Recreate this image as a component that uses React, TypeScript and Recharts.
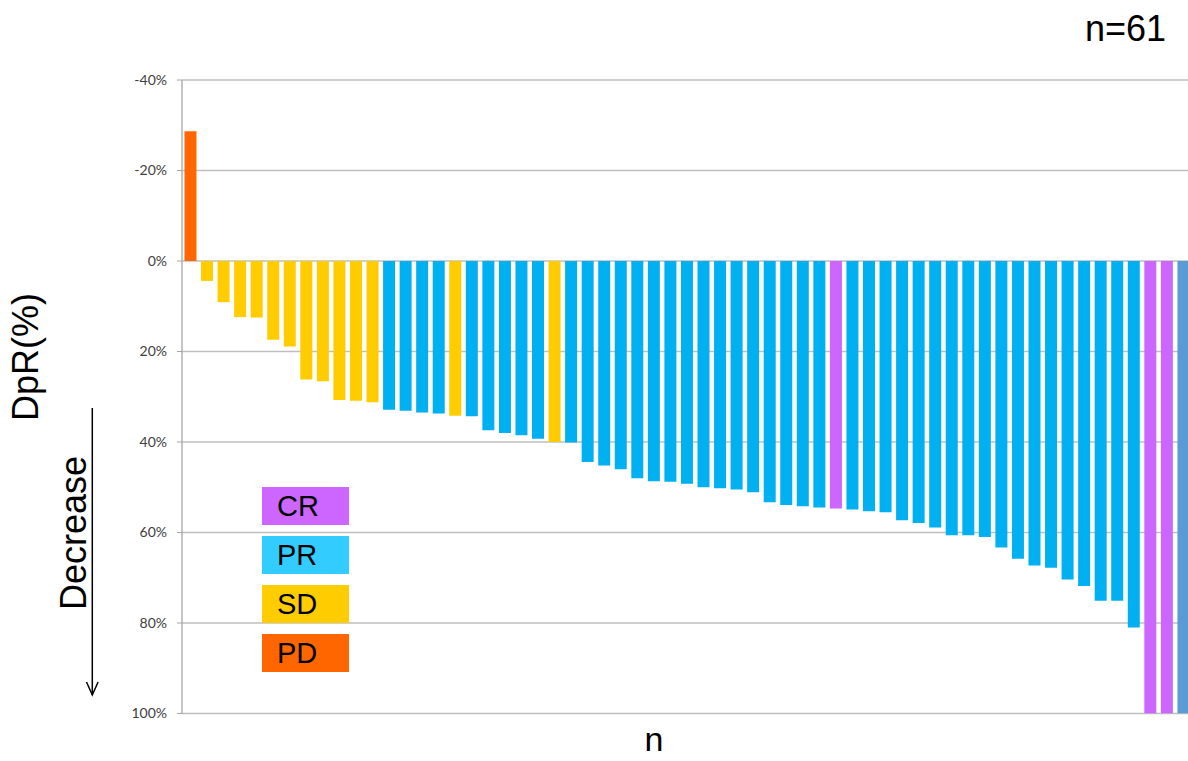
import { BarChart, Bar, XAxis, YAxis, CartesianGrid, Legend, Cell } from "recharts";

// DpR (%) per patient, sorted; negative = increase
const dprValues = [
  -28.7, 4.4, 9.1, 12.4, 12.5, 17.4, 18.9, 26.2, 26.6, 30.7, 30.9, 31.2,
  32.9, 33.1, 33.5, 33.7, 34.2, 34.3, 37.4, 38.0, 38.5, 39.3, 40.0, 40.1,
  44.4, 45.2, 46.0, 48.0, 48.7, 48.8, 49.2, 50.0, 50.2, 50.5, 51.1, 53.3,
  53.9, 54.2, 54.5, 54.7, 54.9, 55.3, 55.5, 57.3, 57.9, 58.9, 60.6, 60.6,
  61.0, 63.3, 65.8, 67.3, 67.8, 70.4, 71.8, 75.1, 75.1, 81.0, 100, 100, 100,
];

// best response per patient
const responses = [
  "PD", "SD", "SD", "SD", "SD", "SD", "SD", "SD", "SD", "SD", "SD", "SD",
  "PR", "PR", "PR", "PR", "SD", "PR", "PR", "PR", "PR", "PR", "SD", "PR",
  "PR", "PR", "PR", "PR", "PR", "PR", "PR", "PR", "PR", "PR", "PR", "PR",
  "PR", "PR", "PR", "CR", "PR", "PR", "PR", "PR", "PR", "PR", "PR", "PR",
  "PR", "PR", "PR", "PR", "PR", "PR", "PR", "PR", "PR", "PR", "CR", "CR", "NA",
];

const yTicks = [-40, -20, 0, 20, 40, 60, 80, 100];

const legendNames = ["CR", "PR", "SD", "PD"];
const legendColors = ["#CC66FF", "#33CCFF", "#FFCC00", "#FF6600"];

const barColors: Record<string, string> = {
  CR: "#CC66FF",
  PR: "#00B0F0",
  SD: "#FFCC00",
  PD: "#FF6600",
  NA: "#5B9BD5",
};

const data = dprValues.map((v, i) => ({ id: i + 1, dpr: v, resp: responses[i] }));

function ResponseLegend() {
  return (
    <div style={{ fontFamily: "'Liberation Sans', Arial, sans-serif" }}>
      {legendNames.map((name, i) => (
        <div
          key={name}
          style={{
            width: 87,
            height: 38,
            marginBottom: 11,
            background: legendColors[i],
            color: "#000",
            fontSize: 29,
            lineHeight: "38px",
            paddingLeft: 15,
            boxSizing: "border-box",
          }}
        >
          {name}
        </div>
      ))}
    </div>
  );
}

export default function App() {
  return (
    <div
      style={{
        position: "fixed",
        left: 0,
        top: 0,
        width: 1188,
        height: 761,
        overflow: "hidden",
        background: "#fff",
      }}
    >
      <BarChart
        width={1200}
        height={761}
        data={data}
        margin={{ top: 80, right: 8.5, left: 0, bottom: 47.5 }}
        barCategoryGap="15%"
      >
        <CartesianGrid horizontal={true} vertical={false} stroke="#BFBFBF" strokeWidth={1.3} />
        <XAxis dataKey="id" hide />
        <YAxis
          reversed
          domain={[-40, 100]}
          ticks={yTicks}
          allowDataOverflow
          width={182}
          tickSize={5}
          tickMargin={10}
          axisLine={{ stroke: "#A6A6A6", strokeWidth: 1.3 }}
          tickLine={{ stroke: "#A6A6A6" }}
          tick={{ fill: "#404040", fontSize: 14, fontFamily: "Lato, sans-serif" }}
          tickFormatter={(v) => `${v}%`}
        />
        <Legend
          layout="vertical"
          align="center"
          verticalAlign="middle"
          content={() => <ResponseLegend />}
          wrapperStyle={{ left: 262, top: 487, width: 87, height: 190 }}
        />
        <Bar dataKey="dpr" isAnimationActive={false}>
          {data.map((d, i) => (
            <Cell key={`cell-${i}`} fill={barColors[d.resp]} />
          ))}
        </Bar>
      </BarChart>
      <svg
        width={1188}
        height={761}
        style={{ position: "absolute", left: 0, top: 0, pointerEvents: "none" }}
        fontFamily="'Liberation Sans', Arial, sans-serif"
      >
        <text x={1166} y={41} fontSize={36} textAnchor="end" fill="#000">n=61</text>
        <text x={654} y={751} fontSize={34} textAnchor="middle" fill="#000">n</text>
        <text transform="translate(38,357) rotate(-90)" fontSize={36} textAnchor="middle" fill="#000">
          DpR(%)
        </text>
        <text transform="translate(86,533) rotate(-90)" fontSize={36} textAnchor="middle" fill="#000">
          Decrease
        </text>
        <line x1={92.3} y1={408} x2={92.3} y2={695} stroke="#000" strokeWidth={1.5} />
        <polyline points="86.5,682 92.3,695 98.1,682" fill="none" stroke="#000" strokeWidth={1.5} />
      </svg>
    </div>
  );
}
